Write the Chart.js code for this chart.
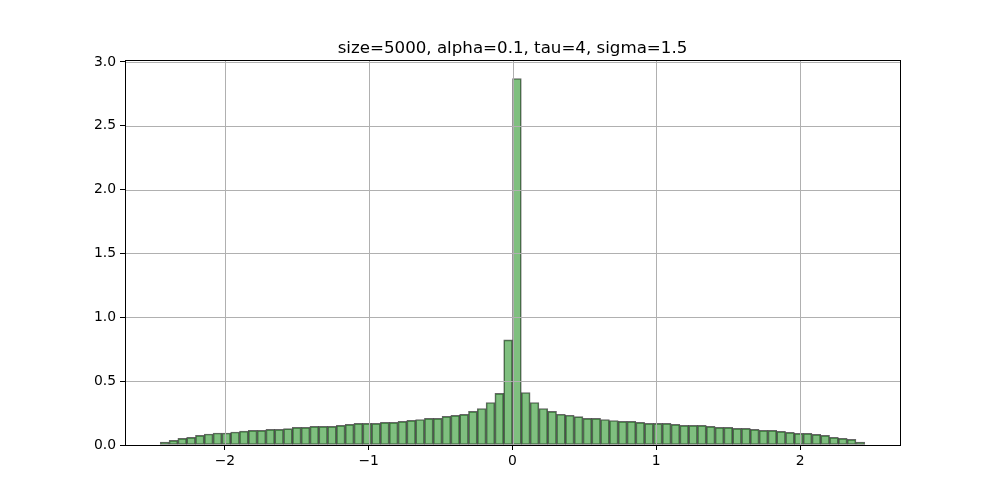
<!DOCTYPE html>
<html>
<head>
<meta charset="utf-8">
<script src="https://cdn.jsdelivr.net/npm/chart.js@4/dist/chart.umd.min.js"></script>
<style>
  html, body { margin: 0; padding: 0; background: #fff; }
  canvas { display: block; }
</style>
</head>
<body>
<canvas id="hist" width="1000" height="500"></canvas>
<script>
// histogram: 80 equal bins between binLo and binHi, density on y
const titleText = 'size=5000, alpha=0.1, tau=4, sigma=1.5';
const binLo = -2.45;
const binHi = 2.45;
const density = [
  0.023, 0.036, 0.052, 0.060, 0.076, 0.086, 0.094, 0.094, 0.102, 0.109,
  0.115, 0.115, 0.122, 0.122, 0.128, 0.138, 0.138, 0.146, 0.146, 0.146,
  0.154, 0.161, 0.169, 0.169, 0.169, 0.177, 0.177, 0.185, 0.193, 0.200,
  0.208, 0.208, 0.224, 0.232, 0.240, 0.263, 0.286, 0.333, 0.404, 0.823,
  2.870, 0.411, 0.333, 0.286, 0.263, 0.241, 0.233, 0.222, 0.208, 0.208,
  0.200, 0.192, 0.185, 0.185, 0.177, 0.169, 0.169, 0.169, 0.161, 0.154,
  0.154, 0.154, 0.146, 0.138, 0.138, 0.130, 0.130, 0.122, 0.115, 0.115,
  0.107, 0.099, 0.091, 0.091, 0.083, 0.076, 0.060, 0.052, 0.044, 0.023,
];
const xTicks = [-2, -1, 0, 1, 2];
const yTicks = [0, 0.5, 1.0, 1.5, 2.0, 2.5, 3.0];

const binWidth = (binHi - binLo) / density.length;
const points = density.map((v, i) => ({ x: binLo + binWidth * (i + 0.5), y: v }));

const fontFamily = "'DejaVu Sans', sans-serif";
const minus = (v) => (v < 0 ? '\u2212' + Math.abs(v) : String(v));

// matplotlib draws the grid over the patches, plus a full box of spines
const overlay = {
  id: 'overlay',
  afterDatasetsDraw(chart) {
    const { ctx, chartArea: a, scales } = chart;
    ctx.save();
    ctx.strokeStyle = '#b0b0b0';
    ctx.lineWidth = 1;
    xTicks.forEach((t) => {
      const px = Math.round(scales.x.getPixelForValue(t)) + 0.5;
      ctx.beginPath();
      ctx.moveTo(px, a.top);
      ctx.lineTo(px, a.bottom);
      ctx.stroke();
    });
    yTicks.forEach((t) => {
      const py = Math.round(scales.y.getPixelForValue(t)) + 0.5;
      ctx.beginPath();
      ctx.moveTo(a.left, py);
      ctx.lineTo(a.right, py);
      ctx.stroke();
    });
    ctx.strokeStyle = '#000';
    ctx.strokeRect(Math.round(a.left) + 0.5, Math.round(a.top) + 0.5,
      Math.round(a.right - a.left), Math.round(a.bottom - a.top));

    // title centred over the axes, like matplotlib
    ctx.fillStyle = '#000';
    ctx.font = `16.67px ${fontFamily}`;
    ctx.textAlign = 'center';
    ctx.textBaseline = 'alphabetic';
    ctx.fillText(titleText, (a.left + a.right) / 2, a.top - 7);
    ctx.restore();
  },
};

new Chart(document.getElementById('hist').getContext('2d'), {
  type: 'bar',
  data: {
    datasets: [{
      data: points,
      backgroundColor: 'rgba(0, 128, 0, 0.5)',
      borderColor: 'rgba(0, 0, 0, 0.6)',
      borderWidth: 1,
      borderSkipped: false,
      barPercentage: 1,
      categoryPercentage: 1,
      grouped: false,
    }],
  },
  options: {
    responsive: false,
    animation: false,
    layout: { padding: { left: 0, right: 100, top: 60, bottom: 0 } },
    plugins: {
      legend: { display: false },
      tooltip: { enabled: false },
      title: { display: false },
    },
    scales: {
      x: {
        type: 'linear',
        min: -2.695,
        max: 2.695,
        offset: false,
        afterFit: (s) => { s.height = 55; },
        afterBuildTicks: (s) => { s.ticks = xTicks.map((v) => ({ value: v })); },
        ticks: {
          color: '#000',
          font: { family: fontFamily, size: 13.9 },
          padding: 3,
          maxRotation: 0,
          callback: (v) => minus(v),
        },
        grid: { offset: false, drawOnChartArea: false, drawTicks: true, tickLength: 5, tickColor: '#000', tickWidth: 1 },
        border: { display: false },
      },
      y: {
        min: 0,
        max: 3.015,
        afterFit: (s) => { s.width = 125; },
        afterBuildTicks: (s) => { s.ticks = yTicks.map((v) => ({ value: v })); },
        ticks: {
          color: '#000',
          font: { family: fontFamily, size: 13.9 },
          padding: 4,
          callback: (v) => v.toFixed(1),
        },
        grid: { drawOnChartArea: false, drawTicks: true, tickLength: 5, tickColor: '#000', tickWidth: 1 },
        border: { display: false },
      },
    },
  },
  plugins: [overlay],
});
</script>
</body>
</html>
